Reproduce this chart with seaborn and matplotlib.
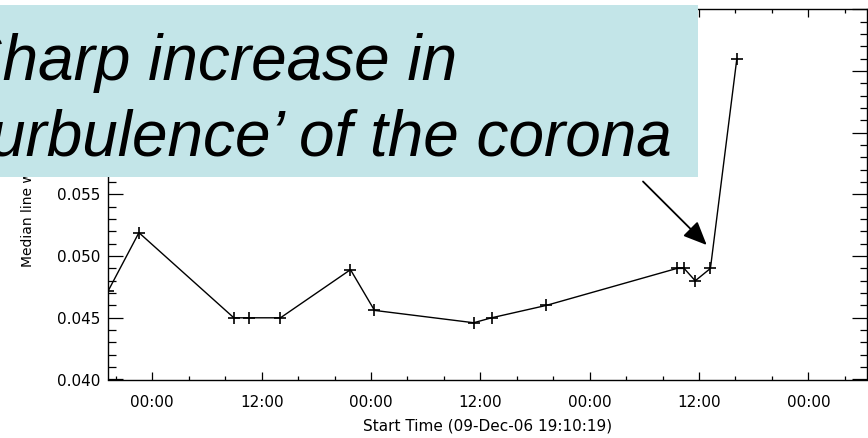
import matplotlib
matplotlib.use("Agg")
import matplotlib.pyplot as plt
import matplotlib.dates as mdates
from matplotlib.patches import Rectangle
from matplotlib.ticker import MultipleLocator, FuncFormatter
import pandas as pd
import seaborn as sns

# Observation start times and median line widths
start_time = "2006-12-09 19:10:19"
end_time = "2006-12-13 06:24:00"
obs_times = [
    "2006-12-09 19:10:19",
    "2006-12-09 22:32:00",
    "2006-12-10 08:57:00",
    "2006-12-10 10:35:00",
    "2006-12-10 14:04:00",
    "2006-12-10 21:45:00",
    "2006-12-11 00:23:00",
    "2006-12-11 11:16:00",
    "2006-12-11 13:14:00",
    "2006-12-11 19:13:00",
    "2006-12-12 09:34:00",
    "2006-12-12 10:22:00",
    "2006-12-12 11:35:00",
    "2006-12-12 13:15:00",
    "2006-12-12 16:09:00",
]
median_width = [
    0.0472, 0.0519, 0.0450, 0.0450, 0.0450, 0.0489, 0.0456, 0.0446,
    0.0450, 0.0460, 0.0490, 0.0490, 0.0480, 0.0490, 0.0660,
]
y_limits = [0.040, 0.070]
x_label = "Start Time (09-Dec-06 19:10:19)"
y_label = "Median line width"
callout_lines = ["Sharp increase in", "\u2018turbulence\u2019 of the corona"]

sns.set_style("ticks")
plt.rcParams["font.family"] = ["DejaVu Sans"]

W, H = 868, 438
fig = plt.figure(figsize=(W / 100, H / 100), dpi=100)
ax = fig.add_axes([108.3 / W, (H - 379.5) / H, (866.7 - 108.3) / W, (379.5 - 9.3) / H])

df = pd.DataFrame({"time": pd.to_datetime(obs_times), "width": median_width})
sns.lineplot(data=df, x="time", y="width", ax=ax, color="black", lw=1.0,
             marker="+", markersize=8, markeredgewidth=1.2, markeredgecolor="black")

ax.set_xlim(pd.Timestamp(start_time), pd.Timestamp(end_time))
ax.set_ylim(*y_limits)

ax.xaxis.set_major_locator(mdates.HourLocator(byhour=[0, 12]))
ax.xaxis.set_minor_locator(mdates.HourLocator(byhour=range(0, 24, 4)))
ax.xaxis.set_major_formatter(mdates.DateFormatter("%H:%M"))
ax.yaxis.set_major_locator(MultipleLocator(0.005))
ax.yaxis.set_minor_locator(MultipleLocator(0.001))
# the top tick of the range carries no label
ax.yaxis.set_major_formatter(FuncFormatter(
    lambda v, pos: "" if v > y_limits[1] - 1e-6 else f"{v:.3f}"))

for s in ax.spines.values():
    s.set_visible(True)
    s.set_color("black")
    s.set_linewidth(1.0)

ax.tick_params(axis="both", which="both", direction="in", top=True, right=True,
               color="black", width=0.9, labelcolor="black", labelsize=11)
ax.tick_params(axis="x", which="major", length=5.6, pad=11)
ax.tick_params(axis="x", which="minor", length=2.8)
ax.tick_params(axis="y", which="major", length=10.8, pad=6)
ax.tick_params(axis="y", which="minor", length=5.4)

ax.set_xlabel(x_label, fontsize=11, color="black")
ax.xaxis.set_label_coords(0.5, -0.104)
ax.set_ylabel(y_label, fontsize=10, color="black")
ax.yaxis.set_label_coords(-0.0966, 0.47)

# Callout box with the annotation text
fig.add_artist(Rectangle((0, (H - 177) / H), 698 / W, (177 - 5) / H,
                         transform=fig.transFigure, facecolor="#c3e5e8",
                         edgecolor="none", zorder=5))
fig.text(457 / W, (H - 80) / H, callout_lines[0], ha="right", va="baseline",
         fontsize=46, style="italic", family="Liberation Sans", color="black", zorder=6)
fig.text(672 / W, (H - 156) / H, callout_lines[1], ha="right", va="baseline",
         fontsize=46, style="italic", family="Liberation Sans", color="black", zorder=6)

arrow = ax.annotate("", xy=(706.7, H - 245), xycoords="figure pixels",
                    xytext=(643, H - 181.5), textcoords="figure pixels",
                    annotation_clip=False,
                    arrowprops=dict(arrowstyle="-|>,head_length=0.8,head_width=0.35",
                                    mutation_scale=18, color="black", lw=1.3,
                                    shrinkA=0, shrinkB=0))
arrow.set_zorder(7)

fig.savefig("out.png", dpi=100)
